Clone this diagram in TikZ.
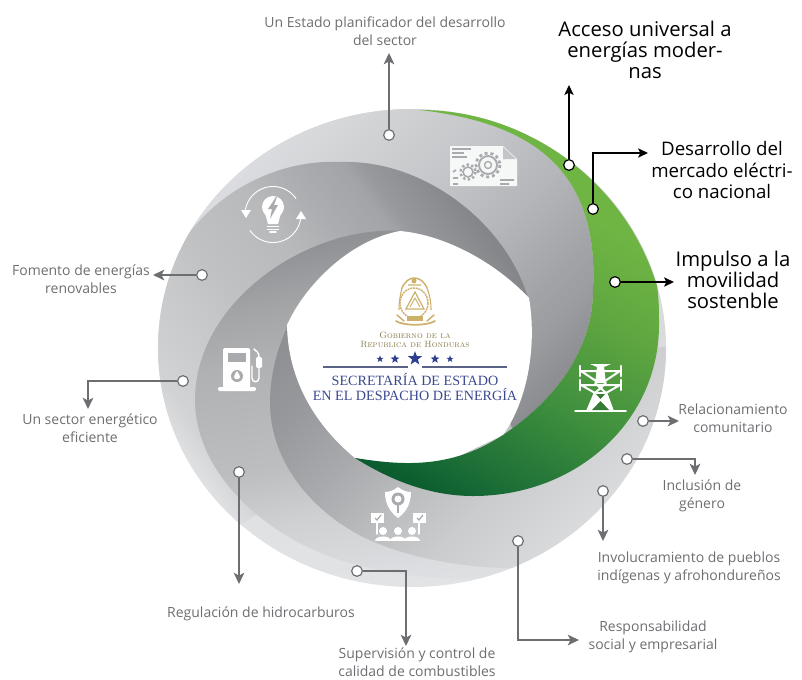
\documentclass[tikz,border=0pt]{standalone}
\usepackage{fontspec}
\usetikzlibrary{arrows.meta,shapes.geometric}
\newfontfamily\labfont{Open Sans}
\newfontfamily\titfont{Liberation Serif}
\definecolor{linegray}{HTML}{6D6E71}
\definecolor{textgray}{HTML}{6D6E71}
\definecolor{navy}{HTML}{3B4A8F}
\definecolor{starblue}{HTML}{2E3F8F}
\definecolor{gold}{HTML}{CDB06A}
\definecolor{golddk}{HTML}{8A7A4A}
\definecolor{iconfg}{HTML}{A9AAAD}
\definecolor{discA}{HTML}{D2D3D5}\definecolor{discB}{HTML}{E2E3E5}
\definecolor{t1}{HTML}{8B8C90}\definecolor{t2}{HTML}{9B9CA0}\definecolor{t3}{HTML}{A3A4A8}\definecolor{t4}{HTML}{B5B6BA}\definecolor{t5}{HTML}{C6C7CA}\definecolor{t6}{HTML}{CFD0D2}\definecolor{t7}{HTML}{DCDDE0}
\pgfdeclareverticalshading{shT}{100bp}{color(0bp)=(t1); color(39bp)=(t1); color(43bp)=(t2); color(46bp)=(t3); color(52bp)=(t4); color(59bp)=(t5); color(64bp)=(t6); color(71bp)=(t7); color(100bp)=(t7)}
\definecolor{m00}{HTML}{DFE0E2}\definecolor{m0}{HTML}{D2D3D5}\definecolor{m1}{HTML}{CDCED0}\definecolor{m2}{HTML}{C6C7C9}\definecolor{m3}{HTML}{C0C1C3}\definecolor{m4}{HTML}{B8B9BB}\definecolor{m5}{HTML}{ADAEB1}\definecolor{m6}{HTML}{A3A4A7}\definecolor{m7}{HTML}{97989B}\definecolor{m8}{HTML}{8C8D91}\definecolor{m9}{HTML}{85868A}
\pgfdeclareverticalshading{shM}{100bp}{color(0bp)=(m00); color(29.4bp)=(m00); color(31.6bp)=(m0); color(34bp)=(m1); color(38bp)=(m2); color(40.7bp)=(m3); color(47bp)=(m4); color(50.4bp)=(m5); color(54.5bp)=(m6); color(56bp)=(m7); color(59bp)=(m8); color(60.7bp)=(m9); color(100bp)=(m9)}
\definecolor{b0}{HTML}{DFE0E2}\definecolor{b1}{HTML}{919296}\definecolor{b2}{HTML}{A3A4A6}\definecolor{b3}{HTML}{B0B1B3}\definecolor{b4}{HTML}{BDBEC0}\definecolor{b5}{HTML}{CFD0D2}\definecolor{b6}{HTML}{DCDDE0}
\pgfdeclareverticalshading{shB}{100bp}{color(0bp)=(b0); color(30bp)=(b0); color(32bp)=(b6); color(37.5bp)=(b5); color(42bp)=(b4); color(51bp)=(b3); color(55.6bp)=(b2); color(59.8bp)=(b1); color(100bp)=(b1)}
\definecolor{c1}{HTML}{8F9094}\definecolor{c2}{HTML}{98999C}\definecolor{c3}{HTML}{A9AAAD}\definecolor{c4}{HTML}{BCBDBF}\definecolor{c5}{HTML}{CBCCCE}\definecolor{c6}{HTML}{D6D7D9}\definecolor{c7}{HTML}{DFE0E2}
\pgfdeclareverticalshading{shC}{100bp}{color(0bp)=(c7); color(27bp)=(c7); color(31bp)=(c6); color(36.4bp)=(c5); color(41.5bp)=(c4); color(47bp)=(c3); color(53bp)=(c2); color(57.7bp)=(c1); color(100bp)=(c1)}
\definecolor{g1}{HTML}{0B5C2E}\definecolor{g2}{HTML}{1A6C36}\definecolor{g3}{HTML}{3F8F3E}\definecolor{g4}{HTML}{4F9A40}\definecolor{g5}{HTML}{5FA640}\definecolor{g6}{HTML}{6FB544}\definecolor{g7}{HTML}{74BA46}
\pgfdeclareverticalshading{shG}{100bp}{color(0bp)=(g1); color(40bp)=(g1); color(43.3bp)=(g2); color(51.8bp)=(g3); color(56bp)=(g4); color(60bp)=(g5); color(67bp)=(g6); color(100bp)=(g7)}
\tikzset{
  dotg/.style={circle,draw=linegray,fill=white,line width=0.9pt,minimum size=8pt,inner sep=0pt},
  dotk/.style={circle,draw=black,fill=white,line width=0.9pt,minimum size=8pt,inner sep=0pt},
  conng/.style={draw=linegray,line width=1pt,-{Stealth[inset=2.2pt,length=8.5pt,width=8pt]}},
  connk/.style={draw=black,line width=1pt,-{Stealth[inset=1.8pt,length=7.5pt,width=7pt]}},
  labg/.style={align=center,inner sep=0pt,text=textgray,font=\labfont\fontsize{10.5}{13.4}\selectfont},
  labk/.style={align=center,inner sep=0pt,text=black,font=\labfont\fontsize{15.2}{15.8}\selectfont},
  ico/.style={draw=white,line cap=round,line join=round},
  starn/.style={star,star points=5,star point ratio=2.4,fill=starblue,inner sep=0pt}
}
\begin{document}
\begin{tikzpicture}[x=0.75pt,y=-0.75pt]
\useasboundingbox (0,0) rectangle (802,679);
% disc
\shade[top color=discA,bottom color=discB] (412,348) ellipse [x radius=254,y radius=239];
\begin{scope}
\clip (412,348) ellipse [x radius=254,y radius=239];
% top band
\begin{scope}
\clip (503,435) .. controls (555,400) and (593,350) .. (593,290) .. controls (600,160) and (520,122) .. (420,110) -- (420,100) -- (150,100) -- (150,285) -- cycle;
\shade[shading=shT,shading angle=45] (112,48) rectangle (712,648);
\end{scope}
% band M
\begin{scope}
\clip (160,285) .. controls (190,205) and (265,158) .. (343,162) .. controls (425,160) and (510,225) .. (530,305) -- (400,400) -- (280,500) -- (215,540) -- (130,540) -- (130,285) -- cycle;
\shade[shading=shM,shading angle=-53.13] (112,48) rectangle (712,648);
\end{scope}
% band B
\begin{scope}
\clip (400,231) .. controls (310,225) and (195,300) .. (195,400) .. controls (195,480) and (280,550) .. (367,567) .. controls (410,578) and (460,582) .. (520,575) -- (520,450) -- (450,260) -- cycle;
\shade[shading=shB,shading angle=10] (112,48) rectangle (712,648);
\end{scope}
% band C
\begin{scope}
\clip (287,327) .. controls (277,350) and (270,375) .. (270,403) .. controls (270,460) and (310,510) .. (363,537) .. controls (410,560) and (490,575) .. (560,565) -- (720,620) -- (720,340) -- (640,350) -- (560,470) -- (480,450) -- (400,300) -- cycle;
\shade[shading=shC,shading angle=45] (112,48) rectangle (712,648);
\end{scope}
\end{scope}
% central hole
\fill[white] (400,231) .. controls (445,235) and (495,262) .. (529,298)
  .. controls (537,345) and (528,400) .. (503,435) -- (430,470) -- (355,458)
  .. controls (315,425) and (288,380) .. (287,325) .. controls (305,285) and (350,240) .. (400,231) -- cycle;
% green crescent
\begin{scope}
\clip (420,110) .. controls (525,110) and (625,180) .. (657,286)
  .. controls (659,298) and (659,312) .. (659,325) .. controls (659,420) and (578,496) .. (473,496)
  .. controls (430,496) and (390,480) .. (355,458) .. controls (400,465) and (450,470) .. (503,435)
  .. controls (555,400) and (593,350) .. (593,290) .. controls (600,160) and (520,122) .. (420,110) -- cycle;
\shade[shading=shG,shading angle=-30] (112,48) rectangle (712,648);
\end{scope}

% document + gears icon
\fill[white!90!iconfg] (450,146) -- (503,146) -- (517,159) -- (517,186) -- (450,186) -- cycle;
\fill[iconfg!70!white] (503,147) -- (503,159) -- (516,159) -- cycle;
\draw[iconfg,line width=1.5pt] (452,149) -- (471,149) (452,153) -- (464,153) (452,157) -- (467,157);
\draw[iconfg,line width=1.4pt] (488,165) circle [radius=9];
\draw[iconfg,line width=2pt,dash pattern=on 2.2pt off 2.2pt] (488,165) circle [radius=12];
\draw[iconfg,line width=1pt] (488,165) circle [radius=3.5];
\draw[iconfg,line width=1.2pt] (468,172) circle [radius=5];
\draw[iconfg,line width=1.8pt,dash pattern=on 1.8pt off 1.8pt] (468,172) circle [radius=7.5];
\draw[iconfg,line width=1.3pt] (500,180) -- (514,180) (500,184) -- (509,184) (453,172) -- (456,170) (453,178) -- (458,178) (453,184) -- (458,184);

% bulb icon
\fill[white] (273,207) circle [radius=11];
\fill[white] (265,213) -- (281,213) -- (278,224) -- (268,224) -- cycle;
\draw[ico,line width=1.4pt] (267.5,226.5) -- (278.5,226.5) (267.5,229.5) -- (278.5,229.5) (270,232) -- (276,232);
\fill[iconfg] (276,197) -- (268,209) -- (272,209) -- (270,219) -- (278,205) -- (274,205) -- (277,197) -- cycle;
\draw[ico,line width=0.7pt] plot[domain=35:172,samples=30] ({273+28*cos(\x)},{214.5-28*sin(\x)});
\draw[ico,line width=0.7pt] plot[domain=215:352,samples=30] ({273+28*cos(\x)},{214.5-28*sin(\x)});
\fill[white] (241,210) -- (251,210) -- (246,218) -- cycle;
\fill[white] (296,219) -- (306,219) -- (301,211) -- cycle;

% fuel pump icon
\fill[white,rounded corners=1.5pt] (223,348) rectangle (250,388);
\fill[white,rounded corners=1pt] (218,387) rectangle (256,391);
\fill[iconfg] (228,353) rectangle (246,362);
\fill[iconfg] (237,376) circle [radius=6];
\fill[white] (237,371) .. controls (235,374) and (234,376) .. (234,377) .. controls (234,380) and (240,380) .. (240,377) .. controls (240,376) and (239,374) .. (237,371) -- cycle;
\draw[ico,line width=1.1pt] (254,349) .. controls (256,351) and (259,352) .. (259,357);
\fill[white,rounded corners=1pt] (256,357) rectangle (262,368);
\draw[ico,line width=1.1pt] (259,368) -- (259,378) .. controls (259,383) and (252,383) .. (252,378) -- (252,366);

% pylon icon
\draw[ico,line width=1.3pt] (575,411) -- (626,411);
\fill[white] (590,364) -- (611,364) -- (604,367) -- (606,383) -- (595,383) -- (597,367) -- cycle;
\draw[ico,line width=1.5pt] (581,371) -- (620,371) (581,385) -- (620,385) (581,371) -- (596,381) (620,371) -- (605,381) (581,385) -- (595,393) (620,385) -- (606,393);
\draw[ico,line width=2pt] (580,366) -- (580,376) (621,366) -- (621,376) (580,380) -- (580,390) (621,380) -- (621,390);
\draw[ico,line width=1.5pt] (595,383) -- (606,393) (606,383) -- (595,393);
\fill[white] (594,392) -- (607,392) -- (614,411) -- (586,411) -- cycle;
\fill[g3!85!black] (600.5,401) -- (592,410) -- (609,410) -- cycle;
\fill[g3!85!black] (596,394) -- (605,394) -- (600.5,399) -- cycle;

% shield + people icon
\fill[white] (398,487) .. controls (403,491) and (407,492) .. (411,492) .. controls (411,504) and (406,512) .. (398,518) .. controls (390,512) and (385,504) .. (385,492) .. controls (389,492) and (393,491) .. (398,487) -- cycle;
\fill[iconfg] (398,499) circle [radius=6.5];
\fill[white] (398,499) circle [radius=3.5];
\draw[iconfg,line width=1.3pt] (398,505) -- (398,513);
\fill[white] (371,513) rectangle (384,523);
\fill[white] (413,513) rectangle (426,523);
\draw[iconfg,line width=0.9pt] (375,518) -- (377,520) -- (381,515) (417,518) -- (419,520) -- (423,515);
\draw[ico,line width=1pt] (377,523) -- (377,534) (419,523) -- (419,534);
\foreach \px in {383,398,412}{
  \fill[white] (\px,531) circle [radius=4];
  \fill[white] (\px-8,541) .. controls (\px-8,535) and (\px+8,535) .. (\px+8,541) -- cycle;
}

% crest
\draw[gold,line width=1.1pt,dash pattern=on 1.5pt off 0.6pt] (414,303) ellipse [x radius=14,y radius=15];
\draw[gold,line width=0.9pt] (415,292) -- (406,309) -- (424,309) -- cycle;
\draw[gold,line width=0.7pt] (415,298) -- (410,307) (415,298) -- (420,307);
\draw[gold,line width=1.3pt,line cap=round] (396,321) .. controls (403,326) and (427,326) .. (435,321);
\draw[gold,line width=1.1pt,line cap=round] (397,315) -- (404,321) (434,315) -- (427,321) (402,288) .. controls (405,281) and (410,278) .. (414,278) .. controls (419,278) and (424,281) .. (427,288);
\draw[gold,line width=0.8pt] (402,288) .. controls (400,296) and (399,302) .. (399,310) (427,288) .. controls (430,296) and (431,302) .. (431,310) (408,285) -- (421,285);
\fill[gold] (414,281) circle [radius=2.5];
\fill[gold] (407,316) rectangle (423,321);

% ministry logo text
\node (gob) at (415,335) [text=golddk,inner sep=0pt,font=\fontsize{6.8}{8}\selectfont] {\textsc{Gobierno de la}};
\node (rep) at (415,344.5) [text=golddk,inner sep=0pt,font=\fontsize{6.8}{8}\selectfont] {\textsc{Republica de Honduras}};
\node[starn,minimum size=5.5pt] (s1) at (380,359) {};
\node[starn,minimum size=7pt] (s2) at (395,359) {};
\node[starn,minimum size=11pt] (s3) at (415,358.5) {};
\node[starn,minimum size=7pt] (s4) at (435,359) {};
\node[starn,minimum size=5.5pt] (s5) at (450,359) {};
\draw[navy!55!gray,line width=0.8pt] (323,367) -- (408,367) (422,367) -- (507,367);
\node (sec) at (415,379.5) [text=navy,inner sep=0pt,font=\titfont\fontsize{10.6}{12}\selectfont] {SECRETARÍA DE ESTADO};
\node (des) at (415,394.5) [text=navy,inner sep=0pt,font=\titfont\fontsize{10.6}{12}\selectfont] {EN EL DESPACHO DE ENERGÍA};

% dots
\node[dotg] (dA) at (389,135) {};
\node[dotk] (dB) at (569,165) {};
\node[dotk] (dC) at (593,209) {};
\node[dotk] (dD) at (615,282) {};
\node[dotg] (dE) at (202,275) {};
\node[dotg] (dF) at (183,381) {};
\node[dotg] (dG) at (239,472) {};
\node[dotg] (dH) at (357,571) {};
\node[dotg] (dI) at (518,541) {};
\node[dotg] (dJ) at (603,491) {};
\node[dotg] (dK) at (627,459) {};
\node[dotg] (dL) at (643,421) {};
% arrow ends
\coordinate (eA) at (389,53);
\coordinate (eB) at (569,85);
\coordinate (eC) at (648,153);
\coordinate (eD) at (674,282);
\coordinate (eE) at (153,275);
\coordinate (eF) at (88,409);
\coordinate (eG) at (239,584);
\coordinate (eH) at (406,646);
\coordinate (eI) at (579,640);
\coordinate (eJ) at (603,541);
\coordinate (eK) at (695,475);
\coordinate (eL) at (679,421);
\draw[conng] (dA) -- (eA);
\draw[connk] (dB) -- (eB);
\draw[connk] (dC) |- (eC);
\draw[connk] (dD) -- (eD);
\draw[conng] (dE) -- (eE);
\draw[conng] (dF) -| (eF);
\draw[conng] (dG) -- (eG);
\draw[conng] (dH) -| (eH);
\draw[conng] (dI) |- (eI);
\draw[conng] (dJ) -- (eJ);
\draw[conng] (dK) -| (eK);
\draw[conng] (dL) -- (eL);
% labels
\node[labg] (lA) at (385,31) {Un Estado planificador del desarrollo\\del sector};
\node[labk] (lB) at (645,50) {Acceso universal a\\energías moder-\\nas};
\node[labk,font=\labfont\fontsize{14}{15.8}\selectfont] (lC) at (722,170) {Desarrollo del\\mercado eléctri-\\co nacional};
\node[labk] (lD) at (733,280) {Impulso a la\\movilidad\\sostenble};
\node[labg] (lE) at (81,279) {Fomento de energías\\renovables};
\node[labg] (lF) at (90,428) {Un sector energético\\eficiente};
\node[labg] (lG) at (261,614) {Regulación de hidrocarburos};
\node[labg] (lH) at (417,662) {Supervisión y control de\\calidad de combustibles};
\node[labg] (lI) at (653,637) {Responsabilidad\\social y empresarial};
\node[labg] (lJ) at (689,568) {Involucramiento de pueblos\\indígenas y afrohondureños};
\node[labg] (lK) at (702,496) {Inclusión de\\género};
\node[labg] (lL) at (733,418) {Relacionamiento\\comunitario};
\end{tikzpicture}
\end{document}
